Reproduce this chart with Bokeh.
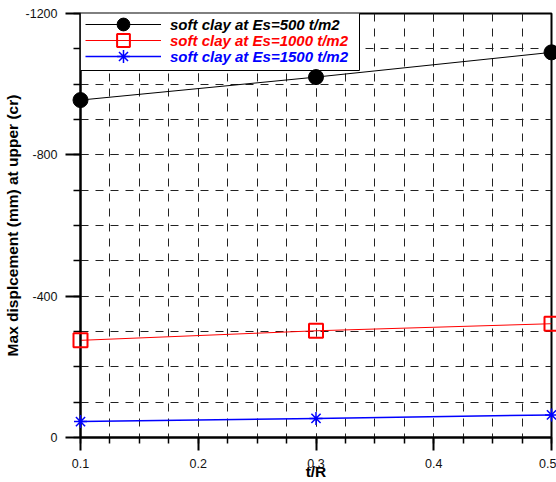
from bokeh.plotting import figure
from bokeh.models import (Range1d, FixedTicker, Legend, LegendItem,
                          PrintfTickFormatter, BoxAnnotation)
from bokeh.embed import file_html
from bokeh.resources import INLINE

# ---- data ----
ratio = [0.1, 0.3, 0.5]
es500 = [-955, -1020, -1090]
es1000 = [-275, -302, -322]
es1500 = [-45, -54, -64]

x_ticks = [0.1, 0.2, 0.3, 0.4, 0.5]
x_minor = [0.1, 0.125, 0.15, 0.175, 0.2, 0.225, 0.25, 0.275, 0.3,
           0.325, 0.35, 0.375, 0.4, 0.425, 0.45, 0.475, 0.5]
y_ticks = [0, -400, -800, -1200]
y_minor = [0, -100, -200, -300, -400, -500, -600, -700, -800,
           -900, -1000, -1100, -1200]
labels = ["soft clay at Es=500 t/m2", "soft clay at Es=1000 t/m2",
          "soft clay at Es=1500 t/m2"]
colors = ["black", "red", "blue"]

W, H = 556, 482
BL, BR, BT, BB = 80, 5, 13, 45
FRAME_H = H - BT - BB

p = figure(width=W, height=H, output_backend="svg", toolbar_location=None,
           x_range=Range1d(0.1, 0.5), y_range=Range1d(0, -1200),
           min_border_left=BL, min_border_right=BR, min_border_top=BT,
           min_border_bottom=BB, background_fill_color="white",
           border_fill_color="white")
p.outline_line_color = "black"
p.outline_line_width = 2

p.xaxis.ticker = FixedTicker(ticks=x_ticks, minor_ticks=x_minor)
p.yaxis.ticker = FixedTicker(ticks=y_ticks, minor_ticks=y_minor)
p.xaxis.formatter = PrintfTickFormatter(format="%.1f")
p.yaxis.formatter = PrintfTickFormatter(format="%d")
p.xaxis.axis_label = "t/R"
p.yaxis.axis_label = "Max displcement (mm) at upper (cr)"

for ax in (p.xaxis[0], p.yaxis[0]):
    ax.axis_line_width = 2
    ax.axis_line_color = "black"
    ax.major_tick_line_width = 2
    ax.minor_tick_line_width = 1.5
    ax.major_tick_line_color = "black"
    ax.minor_tick_line_color = "black"
    ax.major_tick_in = 0
    ax.minor_tick_in = 0
    ax.major_label_text_font = "Liberation Sans"
    ax.major_label_text_font_size = "12.5px"
    ax.major_label_text_color = "#111111"
    ax.axis_label_text_font = "Liberation Sans"
    ax.axis_label_text_font_style = "bold"
    ax.axis_label_text_font_size = "15.5px"
    ax.axis_label_text_color = "black"

p.xaxis.major_tick_out = 13
p.xaxis.minor_tick_out = 6
p.xaxis.major_label_standoff = 8
p.xaxis.axis_label_standoff = -8
p.yaxis.major_tick_out = 15
p.yaxis.minor_tick_out = 7
p.yaxis.major_label_standoff = 8
p.yaxis.axis_label_standoff = 2

for g in (p.xgrid[0], p.ygrid[0]):
    g.grid_line_color = "#222222"
    g.grid_line_dash = "8 7"
    g.grid_line_width = 1
    g.minor_grid_line_color = "#222222"
    g.minor_grid_line_dash = "8 7"
    g.minor_grid_line_width = 1

l1 = p.line(ratio, es500, line_color="black", line_width=1)
l2 = p.line(ratio, es1000, line_color="red", line_width=1)
l3 = p.line(ratio, es1500, line_color="blue", line_width=1.5)
s1 = p.scatter(ratio, es500, marker="circle", size=15, fill_color="black",
               line_color="black")
s2 = p.scatter(ratio, es1000, marker="square", size=14, fill_color=None,
               line_color="red", line_width=2)
s3 = p.scatter(ratio, es1500, marker="asterisk", size=13, line_color="blue",
               line_width=1.5)
for r in (s1, s2, s3):
    r.level = "overlay"

# legend frame box (screen units, relative to the plot frame)
box = BoxAnnotation(left=0, right=279, top=FRAME_H + 1, bottom=FRAME_H - 57,
                    left_units="screen", right_units="screen",
                    top_units="screen", bottom_units="screen",
                    fill_color="white", fill_alpha=1,
                    line_color="black", line_width=1, line_alpha=1)
p.add_layout(box)

common = dict(margin=0, glyph_width=76, label_standoff=9,
              label_text_font="Liberation Sans",
              label_text_font_style="bold italic",
              label_text_font_size="15px")

pairs = [(l1, s1), (l2, s2), (l3, s3)]
for i, (t, c, (l, s)) in enumerate(zip(labels, colors, pairs)):
    leg = Legend(items=[LegendItem(label=t, renderers=[l, s])],
                 location=(5, FRAME_H - 27 - 16 * i), padding=0, spacing=0,
                 glyph_height=32, label_height=32, label_text_color=c,
                 border_line_alpha=0, background_fill_alpha=0, **common)
    p.add_layout(leg)

open("out.html", "w").write(file_html(p, INLINE))
